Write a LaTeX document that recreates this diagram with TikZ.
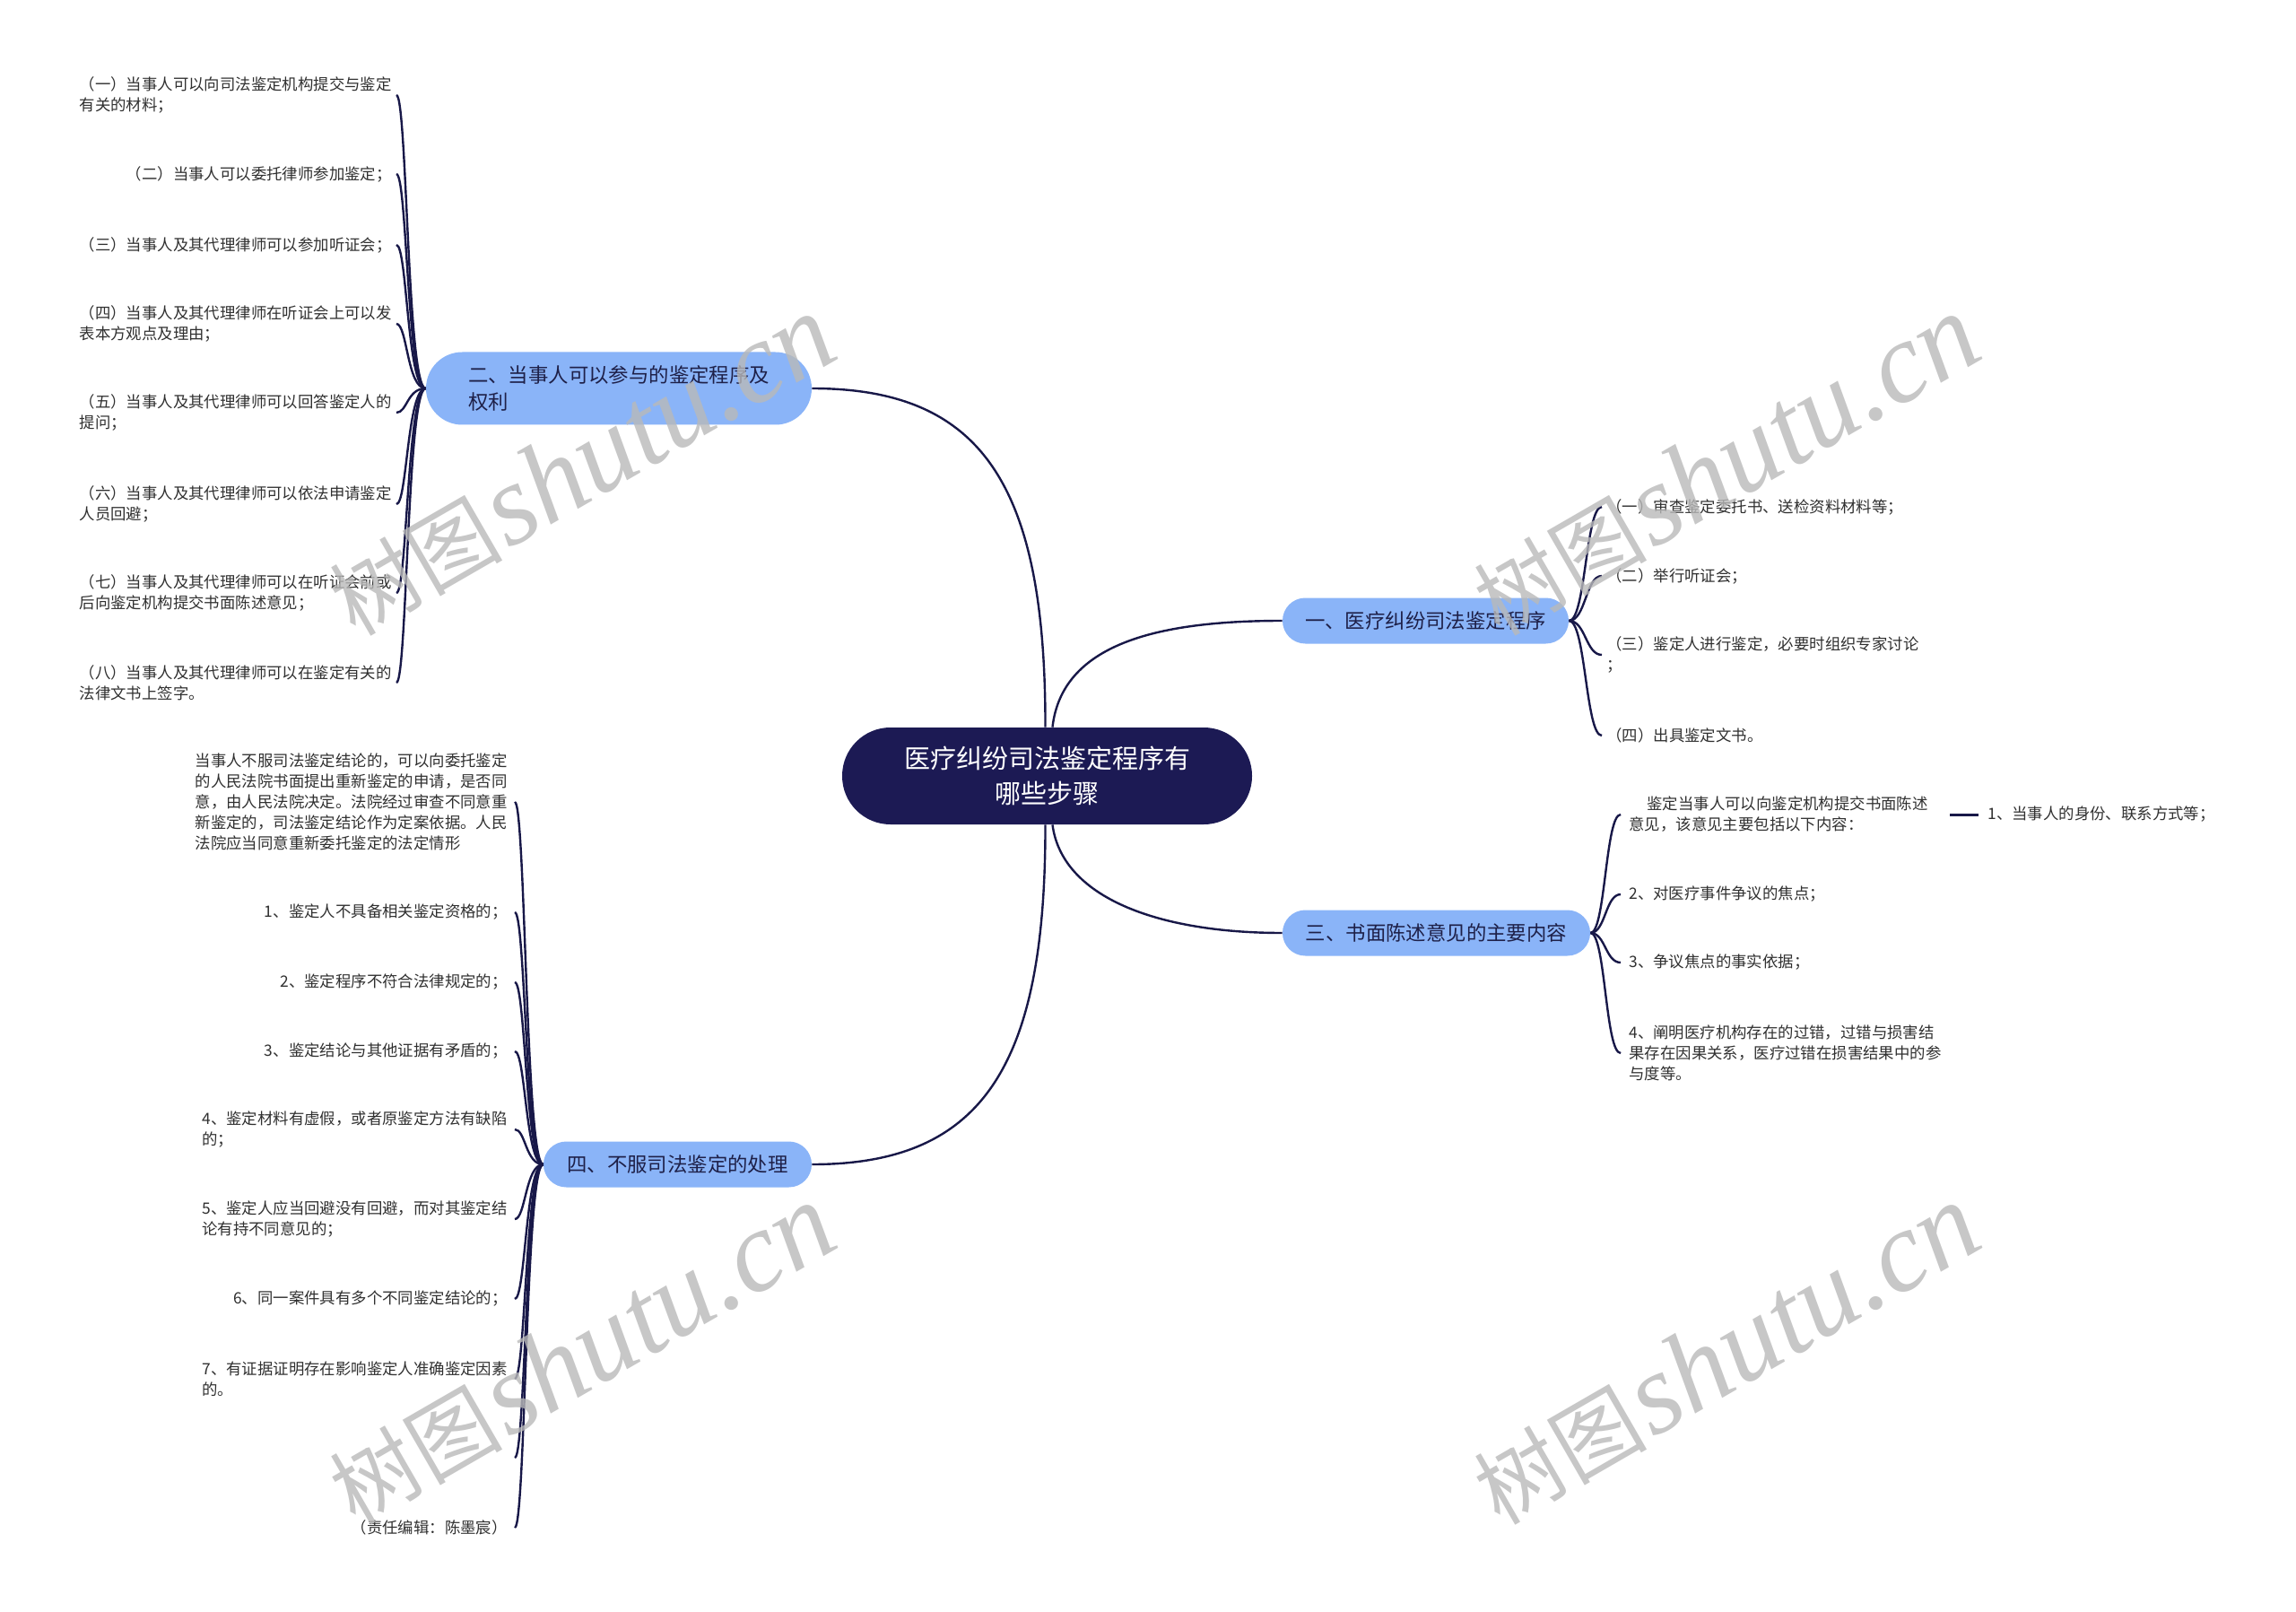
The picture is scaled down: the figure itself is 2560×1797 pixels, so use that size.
\documentclass[tikz,border=0pt]{standalone}
\usepackage{fontspec}
\setmainfont{Noto Sans CJK SC}
\newfontfamily\wmlat{Liberation Serif}
\newfontfamily\wmcjk{Noto Sans CJK SC}
\definecolor{navy}{RGB}{28,26,84}
\definecolor{linec}{RGB}{24,24,72}
\definecolor{branchfill}{RGB}{138,180,248}
\definecolor{branchtext}{RGB}{30,32,72}
\definecolor{leaftext}{RGB}{48,48,48}
\definecolor{wmgray}{RGB}{185,185,185}
\begin{document}
\begin{tikzpicture}[x=0.5pt,y=-0.5pt,
  root/.style={fill=navy,text=white,rounded corners=26.9pt,minimum width=228.5pt,minimum height=54pt,inner sep=0pt,align=center,font=\fontsize{14.5pt}{19.5pt}\selectfont},
  branch/.style={fill=branchfill,text=branchtext,inner sep=0pt,align=left,font=\fontsize{11.2pt}{14.7pt}\selectfont},
  leafL/.style={text=leaftext,anchor=east,inner ysep=1pt,align=left,font=\fontsize{8.7pt}{11.5pt}\selectfont},
  leafR/.style={text=leaftext,anchor=west,inner ysep=1pt,align=left,font=\fontsize{8.7pt}{11.5pt}\selectfont},
  link/.style={draw=linec,line width=1.2pt},
  wm/.style={text=wmgray,text opacity=0.8,rotate=30,inner sep=0pt}
]
\useasboundingbox (0,0) rectangle (2560,1797);
\fill[white] (0,0) rectangle (2560,1797);

% root and branches
\node[root] (root) at (1167.5,865) {医疗纠纷司法鉴定程序有\\哪些步骤};
\node[branch,minimum width=215pt,minimum height=40.5pt,rounded corners=20.2pt,text width=168pt] (b2) at (690,433) {二、当事人可以参与的鉴定程序及\\权利};
\node[branch,minimum width=159.5pt,minimum height=25.5pt,rounded corners=12.7pt] (b1) at (1589.5,692) {一、医疗纠纷司法鉴定程序};
\node[branch,minimum width=171.5pt,minimum height=25.5pt,rounded corners=12.7pt] (b3) at (1601.5,1040) {三、书面陈述意见的主要内容};
\node[branch,minimum width=149.5pt,minimum height=25.5pt,rounded corners=12.7pt] (b4) at (755.5,1298) {四、不服司法鉴定的处理};

% main connectors
\draw[link] ([xshift=-1pt]root.north) .. controls (1166,539) and (1094,433) .. (b2.east);
\draw[link] ([xshift=3pt]root.north) .. controls (1184,718) and (1290,692) .. (b1.west);
\draw[link] ([xshift=3pt]root.south) .. controls (1184,1000) and (1290,1040) .. (b3.west);
\draw[link] ([xshift=-1pt]root.south) .. controls (1166,1191) and (1094,1298) .. (b4.east);

% group 二
\begin{scope}[every node/.append style={inner xsep=2.5pt}]
\node[leafL] (l21) at (442,106) {（一）当事人可以向司法鉴定机构提交与鉴定\\有关的材料；};
\node[leafL] (l22) at (442,194) {（二）当事人可以委托律师参加鉴定；};
\node[leafL] (l23) at (442,273) {（三）当事人及其代理律师可以参加听证会；};
\node[leafL] (l24) at (442,361) {（四）当事人及其代理律师在听证会上可以发\\表本方观点及理由；};
\node[leafL] (l25) at (442,460) {（五）当事人及其代理律师可以回答鉴定人的\\提问；};
\node[leafL] (l26) at (442,562) {（六）当事人及其代理律师可以依法申请鉴定\\人员回避；};
\node[leafL] (l27) at (442,661) {（七）当事人及其代理律师可以在听证会前或\\后向鉴定机构提交书面陈述意见；};
\node[leafL] (l28) at (442,761) {（八）当事人及其代理律师可以在鉴定有关的\\法律文书上签字。};
\end{scope}
\coordinate (t2) at (454,433);
\foreach \n in {l21,l22,l23,l24,l25,l26,l27,l28}
  \draw[link] (b2.west) .. controls (t2) and (t2 |- \n.east) .. (\n.east);

% group 四
\begin{scope}[every node/.append style={inner xsep=4pt}]
\node[leafL] (l41) at (574,894) {当事人不服司法鉴定结论的，可以向委托鉴定\\的人民法院书面提出重新鉴定的申请，是否同\\意，由人民法院决定。法院经过审查不同意重\\新鉴定的，司法鉴定结论作为定案依据。人民\\法院应当同意重新委托鉴定的法定情形};
\node[leafL] (l42) at (574,1017) {1、鉴定人不具备相关鉴定资格的；};
\node[leafL] (l43) at (574,1095) {2、鉴定程序不符合法律规定的；};
\node[leafL] (l44) at (574,1172) {3、鉴定结论与其他证据有矛盾的；};
\node[leafL] (l45) at (574,1259) {4、鉴定材料有虚假，或者原鉴定方法有缺陷\\的；};
\node[leafL] (l46) at (574,1359) {5、鉴定人应当回避没有回避，而对其鉴定结\\论有持不同意见的；};
\node[leafL] (l47) at (574,1448) {6、同一案件具有多个不同鉴定结论的；};
\node[leafL] (l48) at (574,1537) {7、有证据证明存在影响鉴定人准确鉴定因素\\的。};
\node[leafL] (l4a) at (574,1703) {（责任编辑：陈墨宸）};
\end{scope}
\coordinate (l49) at (574,1625);
\coordinate (t4) at (586,1298);
\foreach \n in {l41,l42,l43,l44,l45,l46,l47,l48,l4a}
  \draw[link] (b4.west) .. controls (t4) and (t4 |- \n.east) .. (\n.east);
\draw[link] (b4.west) .. controls (t4) and (t4 |- l49) .. (l49);

% group 一
\begin{scope}[every node/.append style={inner xsep=2.5pt}]
\node[leafR] (r11) at (1786,565) {（一）审查鉴定委托书、送检资料材料等；};
\node[leafR] (r12) at (1786,642) {（二）举行听证会；};
\node[leafR] (r13) at (1786,730) {（三）鉴定人进行鉴定，必要时组织专家讨论\\；};
\node[leafR] (r14) at (1786,820) {（四）出具鉴定文书。};
\end{scope}
\coordinate (t1) at (1768,692);
\foreach \n in {r11,r12,r13,r14}
  \draw[link] (b1.east) .. controls (t1) and (t1 |- \n.west) .. (\n.west);

% group 三
\begin{scope}[every node/.append style={inner xsep=4.5pt}]
\node[leafR] (r31) at (1807,908) {\hspace*{10pt}鉴定当事人可以向鉴定机构提交书面陈述\\意见，该意见主要包括以下内容：};
\node[leafR] (r32) at (1807,997) {2、对医疗事件争议的焦点；};
\node[leafR] (r33) at (1807,1073) {3、争议焦点的事实依据；};
\node[leafR] (r34) at (1807,1174) {4、阐明医疗机构存在的过错，过错与损害结\\果存在因果关系，医疗过错在损害结果中的参\\与度等。};
\end{scope}
\node[leafR,inner xsep=5pt] (r31a) at (2206,908) {1、当事人的身份、联系方式等；};
\coordinate (t3) at (1790,1040);
\foreach \n in {r31,r32,r33,r34}
  \draw[link] (b3.east) .. controls (t3) and (t3 |- \n.west) .. (\n.west);
\draw[link,line width=1.5pt] ([xshift=7.5pt]r31.east) -- (r31a.west);

% watermarks
\node[wm] (wm1) at (648,519) {{\wmcjk\fontsize{48pt}{48pt}\selectfont 树图} {\wmlat\itshape\fontsize{64pt}{64pt}\selectfont shutu.cn}};
\node[wm] (wm2) at (1924,519) {{\wmcjk\fontsize{48pt}{48pt}\selectfont 树图} {\wmlat\itshape\fontsize{64pt}{64pt}\selectfont shutu.cn}};
\node[wm] (wm3) at (648,1510) {{\wmcjk\fontsize{48pt}{48pt}\selectfont 树图} {\wmlat\itshape\fontsize{64pt}{64pt}\selectfont shutu.cn}};
\node[wm] (wm4) at (1924,1510) {{\wmcjk\fontsize{48pt}{48pt}\selectfont 树图} {\wmlat\itshape\fontsize{64pt}{64pt}\selectfont shutu.cn}};
\end{tikzpicture}
\end{document}
